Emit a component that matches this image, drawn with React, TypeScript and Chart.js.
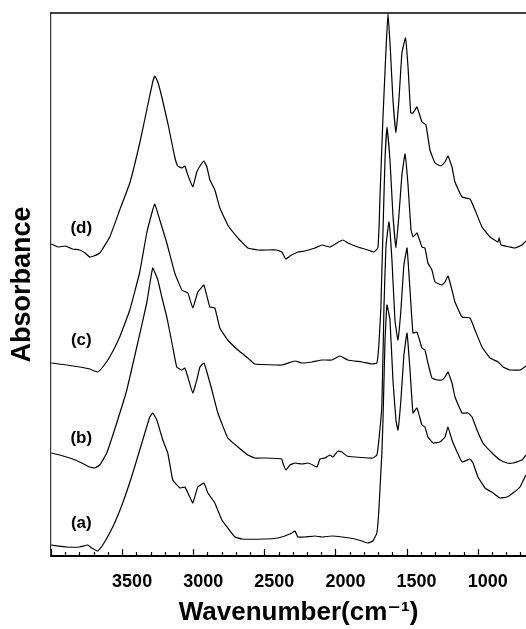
import { useEffect, useRef } from 'react';
import { Chart, registerables } from 'chart.js';

Chart.register(...registerables);

// FTIR spectra, stacked with offsets (absorbance, arbitrary units)
const waveD = [3998,3950,3900,3850,3800,3760,3728,3700,3657,3587,3517,3446,3376,3327,3285,3270,3249,3221,3179,3130,3109,3080,3059,3038,3003,2975,2939,2925,2904,2883,2848,2813,2757,2686,2616,2546,2412,2377,2349,2320,2264,2215,2145,2095,2039,1990,1948,1913,1843,1772,1730,1702,1693,1688,1666,1645,1631,1614,1596,1575,1554,1533,1508,1490,1471,1455,1427,1392,1364,1336,1300,1258,1230,1209,1181,1160,1110,1054,1019,970,913,857,850,836,773,738,689,661];
const absD = [312,309,310,307,306,303,299,300,303,319,346,373,413,446,474,480,474,459,433,399,390,388,390,381,369,384,393,395,389,376,366,348,331,318,308,306,306,304,297,300,304,305,308,311,309,313,316,313,309,306,304,308,331,356,439,506,543,506,456,423,456,503,518,489,443,443,449,434,431,406,393,390,394,400,389,374,359,357,346,329,319,314,318,311,309,308,311,315];

const waveC = [3998,3890,3798,3728,3671,3636,3587,3517,3446,3376,3327,3285,3270,3235,3186,3130,3080,3038,3003,2968,2939,2925,2897,2883,2848,2813,2757,2686,2616,2567,2377,2285,2236,2166,2095,2025,1969,1913,1814,1744,1709,1695,1681,1667,1652,1638,1617,1596,1575,1554,1533,1511,1490,1469,1455,1427,1392,1371,1350,1322,1300,1251,1230,1209,1181,1160,1110,1054,1019,970,913,857,822,773,703,661];
const absC = [193,191,189,187,184,189,199,219,246,284,323,346,352,336,313,283,266,263,248,264,269,271,256,249,248,228,216,206,198,192,191,195,193,194,196,196,200,196,194,192,193,211,248,320,396,429,396,341,308,341,381,402,371,326,319,323,309,308,293,286,274,271,274,280,266,254,239,238,226,209,198,194,189,186,186,190];

const waveB = [3998,3939,3868,3798,3728,3693,3657,3608,3538,3467,3397,3327,3285,3249,3221,3186,3144,3116,3080,3059,3038,3003,2975,2953,2925,2904,2869,2827,2757,2686,2616,2567,2496,2377,2370,2349,2320,2285,2236,2194,2159,2130,2109,2074,2039,2018,1983,1955,1920,1863,1772,1737,1709,1695,1674,1659,1645,1624,1603,1582,1561,1540,1519,1497,1476,1455,1427,1392,1371,1350,1322,1286,1251,1230,1209,1181,1160,1110,1068,1040,1005,963,899,843,794,752,689,661];
const absB = [103,101,98,94,89,88,91,103,133,166,209,253,288,276,259,239,209,189,186,188,179,163,176,189,193,184,166,143,118,109,101,98,98,97,93,86,91,93,92,93,91,89,97,98,101,99,105,104,100,99,98,98,101,116,150,250,310,334,296,236,216,246,291,308,266,223,224,208,206,193,178,176,176,179,184,173,159,143,143,139,126,113,103,96,93,93,96,101];

const waveA = [3998,3890,3798,3742,3714,3671,3636,3566,3496,3425,3355,3306,3285,3256,3214,3179,3144,3094,3059,3024,3003,2968,2925,2897,2862,2848,2799,2757,2707,2658,2496,2405,2356,2306,2285,2264,2215,2145,2095,2025,1955,1863,1814,1772,1737,1709,1695,1674,1666,1652,1638,1617,1596,1575,1561,1540,1519,1497,1476,1455,1427,1392,1371,1350,1314,1265,1230,1209,1181,1145,1110,1054,1033,998,948,892,843,794,752,703,661];
const absA = [11,9,9,11,8,5,11,29,53,83,116,139,143,136,116,103,76,68,69,59,53,69,73,63,56,53,36,28,19,17,17,18,20,23,25,19,19,20,19,20,19,17,15,13,15,23,46,103,136,215,251,236,176,136,126,156,201,223,186,143,148,131,129,119,113,114,119,129,116,104,94,97,93,79,68,63,58,59,63,69,81];

const tickLabels = [3500, 3000, 2500, 2000, 1500, 1000];

// Curve tags placed in data coordinates
const curveTags = ['(a)', '(b)', '(c)', '(d)'];
const tagWave = [3787, 3787, 3787, 3787];
const tagAbs = [33, 118, 216, 328];

const FONT = '"Liberation Sans", Arial, "DejaVu Sans", sans-serif';

const toPoints = (xs: number[], ys: number[]) => xs.map((x, i) => ({ x, y: ys[i] }));

const frameAndTicks = {
  id: 'frameAndTicks',
  afterDraw(chart: any) {
    const { ctx, chartArea, scales } = chart;
    const { left, right, top, bottom } = chartArea;
    const x = scales.x;
    const y = scales.y;
    ctx.save();
    ctx.strokeStyle = '#000';
    ctx.lineWidth = 1.6;
    ctx.beginPath();
    ctx.moveTo(left, top);
    ctx.lineTo(right, top);
    ctx.stroke();

    // inward tick marks: long every 500, short every 100
    ctx.lineWidth = 1.2;
    ctx.beginPath();
    for (const t of x.ticks) {
      const v = t.value;
      if (v % 100 !== 0) continue;
      const px = Math.round(x.getPixelForValue(v)) + 0.5;
      const len = v % 500 === 0 ? 7 : 4;
      ctx.moveTo(px, bottom);
      ctx.lineTo(px, bottom - len);
    }
    ctx.stroke();

    ctx.fillStyle = '#000';
    ctx.font = `bold 17px ${FONT}`;
    ctx.textAlign = 'center';
    ctx.textBaseline = 'middle';
    curveTags.forEach((s, i) => {
      ctx.fillText(s, x.getPixelForValue(tagWave[i]), y.getPixelForValue(tagAbs[i]));
    });
    ctx.restore();
  },
};

export default function App() {
  const ref = useRef<HTMLCanvasElement | null>(null);

  useEffect(() => {
    if (!ref.current) return;
    const line = (xs: number[], ys: number[]) => ({
      data: toPoints(xs, ys),
      borderColor: '#000',
      borderWidth: 1.2,
      pointRadius: 0,
      tension: 0.1,
      fill: false,
    });
    const chart = new Chart(ref.current, {
      type: 'line',
      data: {
        datasets: [
          line(waveA, absA),
          line(waveB, absB),
          line(waveC, absC),
          line(waveD, absD),
        ],
      },
      options: {
        responsive: false,
        animation: false,
        layout: { padding: { top: 13, right: 0, left: 0, bottom: 0 } },
        plugins: { legend: { display: false }, tooltip: { enabled: false } },
        scales: {
          x: {
            type: 'linear',
            reverse: true,
            min: 520,
            max: 4000,
            grid: { display: false },
            border: { display: true, color: '#000', width: 2 },
            ticks: {
              stepSize: 100,
              autoSkip: false,
              maxRotation: 0,
              padding: 7,
              labelOffset: 10,
              color: '#000',
              font: { family: FONT, size: 18, weight: 'bold' },
              callback: (v: any) => (tickLabels.includes(Number(v)) ? String(v) : ''),
            },
            title: {
              display: true,
              text: 'Wavenumber(cm\u207B\u00B9)',
              color: '#000',
              font: { family: FONT, size: 26, weight: 'bold' },
              padding: { top: 0, bottom: 1 },
            },
            afterFit: (s: any) => {
              s.height = 73;
              s.paddingLeft = 0;
              s.paddingRight = 0;
            },
          },
          y: {
            type: 'linear',
            min: 0,
            max: 543,
            grid: { display: false },
            border: { display: true, color: '#333', width: 1.2 },
            ticks: { display: false },
            title: {
              display: true,
              text: 'Absorbance',
              color: '#000',
              font: { family: FONT, size: 27, weight: 'bold' },
              padding: { top: 6, bottom: 0 },
            },
            afterFit: (s: any) => {
              s.width = 51;
              s.paddingTop = 0;
              s.paddingBottom = 0;
            },
          },
        },
      },
      plugins: [frameAndTicks],
    });
    return () => chart.destroy();
  }, []);

  return (
    <div style={{ position: 'absolute', left: 0, top: 0, width: 526, height: 629, overflow: 'hidden', background: '#fff' }}>
      <canvas ref={ref} width={546} height={629} style={{ display: 'block' }} />
    </div>
  );
}
